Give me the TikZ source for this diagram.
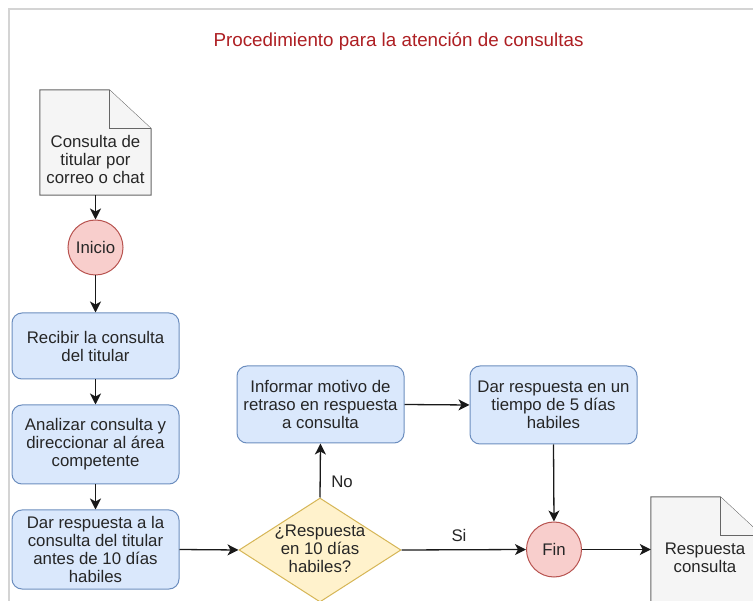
\documentclass[tikz,border=0pt]{standalone}
\usepackage{fontspec}
\setmainfont{Liberation Sans}
\usetikzlibrary{arrows.meta,shapes.geometric}
\definecolor{procfill}{HTML}{DAE8FC}
\definecolor{procstroke}{HTML}{6C8EBF}
\definecolor{termfill}{HTML}{F8CECC}
\definecolor{termstroke}{HTML}{B85450}
\definecolor{decfill}{HTML}{FFF2CC}
\definecolor{decstroke}{HTML}{D6B656}
\definecolor{docfill}{HTML}{F5F5F5}
\definecolor{docstroke}{HTML}{666666}
\definecolor{titlered}{HTML}{AE1F23}
\definecolor{framegray}{HTML}{D4D4D4}
\begin{document}
\begin{tikzpicture}[x=1pt,y=-1pt,
  every node/.style={font=\fontsize{16.8}{18}\selectfont, text=black!85},
  proc/.style={rectangle, rounded corners=10pt, draw=procstroke, fill=procfill, line width=1pt, minimum width=167pt, align=center, inner sep=0pt},
  term/.style={circle, draw=termstroke, fill=termfill, line width=1pt, minimum size=55pt, inner sep=0pt},
  decbox/.style={diamond, draw=decstroke, fill=decfill, line width=1pt, minimum width=162pt, minimum height=104pt, inner sep=0pt},
  docbox/.style={rectangle, minimum width=111pt, minimum height=105pt, inner sep=0pt},
  docline/.style={draw=docstroke, fill=docfill, line width=1pt, line join=miter},
  txt/.style={align=center, inner sep=0pt},
  flow/.style={-{Stealth[length=11pt,width=11pt,inset=3pt]}, line width=1.3pt, draw=black!90},
  lbl/.style={inner sep=0pt}
]
\useasboundingbox (0,0) rectangle (753,601);
\clip (0,0) rectangle (753,601);
\fill[white] (0,0) rectangle (753,601);
\draw[framegray, line width=1.5pt] (9,601) -- (9,9) -- (753,9);

\node[txt, text=titlered, font=\fontsize{18.8}{20}\selectfont] (title) at (398.5,42) {Procedimiento para la atención de consultas};

% document 1
\node[docbox] (doc1) at (95.5,142.5) {};
\draw[docline] (doc1.south west) -- (doc1.north west) -- ([xshift=-42pt]doc1.north east) -- ([yshift=-39pt]doc1.north east) -- (doc1.south east) -- cycle;
\draw[docline] ([xshift=-42pt]doc1.north east) -- ([xshift=-42pt,yshift=-39pt]doc1.north east) -- ([yshift=-39pt]doc1.north east);
\node[txt] (doc1t) at (95.5,159) {Consulta de\\titular por\\correo o chat};

\node[term] (ini) at (95.5,247.5) {Inicio};
\node[proc, minimum height=66pt] (rec) at (95.5,346) {Recibir la consulta\\del titular};
\node[proc, minimum height=79pt] (ana) at (95.5,444.5) {Analizar consulta y\\direccionar al área\\competente};
\node[proc, minimum height=79pt] (dar) at (95.5,549.5) {Dar respuesta a la\\consulta del titular\\antes de 10 días\\habiles};

\node[decbox] (dia) at (320,550) {};
\node[txt] (diat) at (320,549) {¿Respuesta\\en 10 días\\habiles?};

\node[proc, minimum height=77pt] (inf) at (320.5,404.5) {Informar motivo de\\retraso en respuesta\\a consulta};
\node[proc, minimum height=78pt] (d5) at (553.5,405) {Dar respuesta en un\\tiempo de 5 días\\habiles};

\node[term] (fin) at (554,549.5) {Fin};

% document 2
\node[docbox] (doc2) at (706.5,549.5) {};
\draw[docline] (doc2.south west) -- (doc2.north west) -- ([xshift=-42pt]doc2.north east) -- ([yshift=-39pt]doc2.north east) -- (doc2.south east) -- cycle;
\draw[docline] ([xshift=-42pt]doc2.north east) -- ([xshift=-42pt,yshift=-39pt]doc2.north east) -- ([yshift=-39pt]doc2.north east);
\node[txt] (doc2t) at (705,558) {Respuesta\\consulta};

% connectors
\draw[flow] (doc1.south) -- (ini.north);
\draw[flow] (ini.south) -- (rec.north);
\draw[flow] (rec.south) -- (ana.north);
\draw[flow] (ana.south) -- (dar.north);
\draw[flow] (dar.east) -- (dia.west);
\draw[flow] (dia.north) -- (inf.south);
\draw[flow] (inf.east) -- (d5.west);
\draw[flow] (d5.south) -- (fin.north);
\draw[flow] (dia.east) -- (fin.west);
\draw[flow] (fin.east) -- (doc2.west);

\node[lbl] (no) at (342,482) {No};
\node[lbl] (si) at (459,535) {Si};
\end{tikzpicture}
\end{document}
